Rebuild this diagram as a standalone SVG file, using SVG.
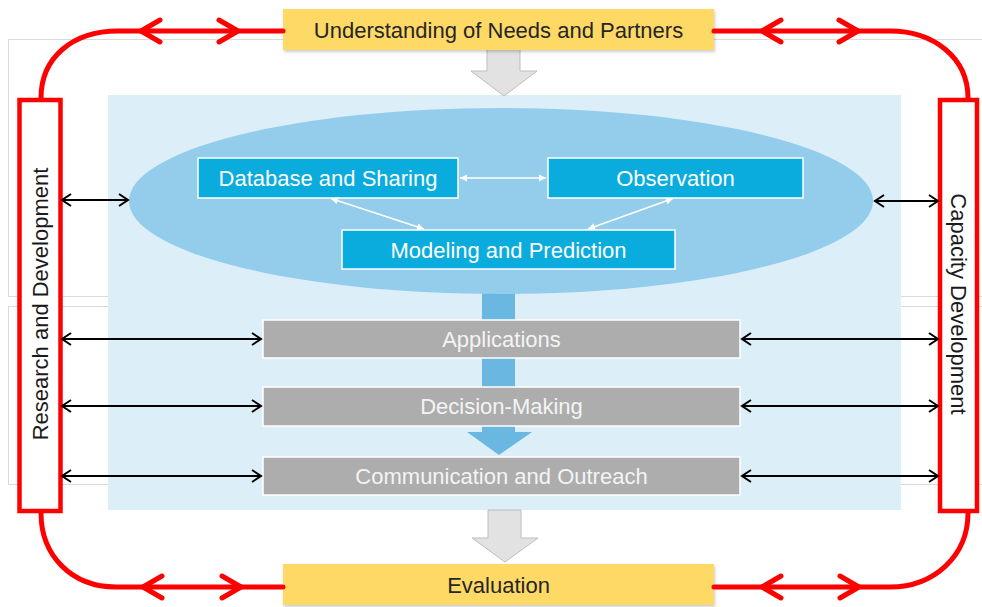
<svg xmlns="http://www.w3.org/2000/svg" width="982" height="607" viewBox="0 0 982 607">
<style>
text{font-family:"Liberation Sans",Arial,sans-serif;font-size:22px;text-anchor:middle}
.yel{fill:#FFD966}
.ytx{fill:#262626}
.blu{fill:#0AACDD;stroke:#FFFFFF;stroke-width:1.5}
.btx{fill:#FFFFFF}
.gry{fill:#ADADAD;stroke:#FFFFFF;stroke-width:1.5}
.gtx{fill:#F4F4F4}
.red{fill:#FFFFFF;stroke:#FF0000;stroke-width:4.5}
.rtx{fill:#1A1A1A}
.blk{stroke:#000;stroke-width:2;fill:none;marker-start:url(#bh);marker-end:url(#bh)}
.wht{stroke:#FFF;stroke-width:1.5;fill:none;marker-start:url(#wh);marker-end:url(#wh)}
.rl{stroke:#FF0000;stroke-width:5;fill:none;stroke-linecap:round;stroke-linejoin:round}
.ga{fill:#E2E2E2;stroke:#BDBDBD;stroke-width:1}
.faint{fill:none;stroke:#DADADA;stroke-width:1}
</style>
<defs>
<marker id="bh" markerUnits="userSpaceOnUse" markerWidth="14" markerHeight="14" refX="11" refY="7" orient="auto-start-reverse">
<path d="M2,1 L11,7 L2,13" fill="none" stroke="#000" stroke-width="2"/>
</marker>
<marker id="wh" markerUnits="userSpaceOnUse" markerWidth="10" markerHeight="10" refX="8" refY="5" orient="auto-start-reverse">
<path d="M1,1.5 L8,5 L1,8.5 Z" fill="#FFF"/>
</marker>
<filter id="sh" x="-5%" y="-20%" width="110%" height="150%">
<feDropShadow dx="1" dy="2" stdDeviation="1.5" flood-color="#000" flood-opacity="0.2"/>
</filter>
</defs>
<rect width="982" height="607" fill="#FFFFFF"/>
<rect class="faint" x="8.5" y="39.5" width="975" height="257"/>
<rect class="faint" x="8.5" y="306.5" width="975" height="178"/>
<g id="background">
<rect x="108" y="95" width="793" height="415" fill="#DCEEF8"/>
</g>
<g id="arrow-top">
<polygon class="ga" points="487,49 520,49 520,71 537,71 504,96 471,71 487,71"/>
</g>
<g id="arrow-bottom">
<polygon class="ga" points="488,510 521,510 521,538 538,538 505,562 472,538 488,538"/>
</g>
<g id="center-arrow">
<polygon fill="#6AB8E1" points="482,285 515,285 515,432 532,432 499,455 467,432 482,432"/>
</g>
<g id="core">
<ellipse cx="501" cy="201" rx="372" ry="93" fill="#93CDEB"/>
</g>
<g id="needs">
<rect class="yel" x="283" y="9" width="431" height="41" filter="url(#sh)"/>
<text class="ytx" x="498.5" y="37.5">Understanding of Needs and Partners</text>
</g>
<g id="evaluation">
<rect class="yel" x="283" y="564" width="431" height="41" filter="url(#sh)"/>
<text class="ytx" x="498.5" y="592.5">Evaluation</text>
</g>
<g id="database">
<rect class="blu" x="198" y="158" width="260" height="40"/>
<text class="btx" x="328" y="185.5">Database and Sharing</text>
</g>
<g id="observation">
<rect class="blu" x="548" y="158" width="255" height="40"/>
<text class="btx" x="675.5" y="185.5">Observation</text>
</g>
<g id="modeling">
<rect class="blu" x="342" y="230" width="333" height="39"/>
<text class="btx" x="508.5" y="257.5">Modeling and Prediction</text>
</g>
<g id="applications">
<rect class="gry" x="263" y="320" width="477" height="38"/>
<text class="gtx" x="501.5" y="346.5">Applications</text>
</g>
<g id="decision">
<rect class="gry" x="263" y="387" width="477" height="39"/>
<text class="gtx" x="501.5" y="414">Decision-Making</text>
</g>
<g id="communication">
<rect class="gry" x="263" y="457" width="477" height="38"/>
<text class="gtx" x="501.5" y="484">Communication and Outreach</text>
</g>
<g id="research">
<rect class="red" x="19.5" y="100" width="41" height="411"/>
<text class="rtx" transform="translate(48,304) rotate(-90)">Research and Development</text>
</g>
<g id="capacity">
<rect class="red" x="940" y="100" width="37" height="411"/>
<text class="rtx" transform="translate(951,304) rotate(90)">Capacity Development</text>
</g>
<g id="connectors">
<path class="blk" d="M62,200 L128,200"/>
<path class="blk" d="M875,201 L938,201"/>
<path class="blk" d="M62,339 L261,339"/>
<path class="blk" d="M62,406 L261,406"/>
<path class="blk" d="M62,476 L261,476"/>
<path class="blk" d="M742,339 L938,339"/>
<path class="blk" d="M742,406 L938,406"/>
<path class="blk" d="M742,476 L938,476"/>
<path class="wht" d="M460,178 L546,178"/>
<path class="wht" d="M331,198.5 L424,229"/>
<path class="wht" d="M673,198.5 L588,229"/>
<path class="rl" d="M41,98 C41,58 72,31 118,31 L283,31"/>
<path class="rl" d="M160,20 L141,31 L160,42"/>
<path class="rl" d="M219,20 L238,31 L219,42"/>
<path class="rl" d="M714,31 L890,31 C934,31 968,58 968,98"/>
<path class="rl" d="M781,20 L762,31 L781,42"/>
<path class="rl" d="M839,20 L858,31 L839,42"/>
<path class="rl" d="M41,513 C41,556 72,587 116,587 L283,587"/>
<path class="rl" d="M162,576 L143,587 L162,598"/>
<path class="rl" d="M222,576 L241,587 L222,598"/>
<path class="rl" d="M714,587 L890,587 C934,587 968,556 968,513"/>
<path class="rl" d="M781,576 L762,587 L781,598"/>
<path class="rl" d="M840,576 L859,587 L840,598"/>
</g>
</svg>
